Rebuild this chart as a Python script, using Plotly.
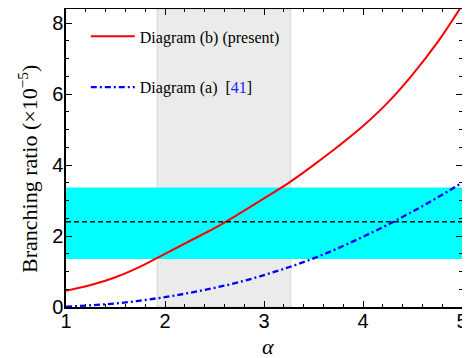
import plotly.graph_objects as go

# Data
alpha = [1.0, 1.25, 1.5, 1.75, 2.0, 2.25, 2.5, 2.75, 3.0, 3.25, 3.5, 3.75, 4.0, 4.25, 4.5, 4.75, 5.0]
br_b = [0.46, 0.62, 0.84, 1.14, 1.50, 1.86, 2.22, 2.63, 3.06, 3.50, 4.00, 4.53, 5.10, 5.76, 6.55, 7.45, 8.50]
br_a = [0.01, 0.05, 0.10, 0.18, 0.28, 0.40, 0.54, 0.70, 0.90, 1.12, 1.37, 1.66, 1.98, 2.32, 2.69, 3.08, 3.50]

exp_central = 2.40
exp_low = 1.35
exp_high = 3.37
alpha_low = 1.92
alpha_high = 3.27

x_ticks = [1, 2, 3, 4, 5]
y_ticks = [0, 2, 4, 6, 8]

fig = go.Figure()

fig.add_trace(go.Scatter(
    x=alpha, y=br_b, mode="lines", line=dict(color="#ff0000", width=2, shape="spline"),
    name="Diagram (b) (present)", legendgroup="b"))
fig.add_trace(go.Scatter(
    x=alpha, y=br_a, mode="lines", line=dict(color="#0000ff", width=2.3, dash="6px,3px,2px,3px", shape="spline"),
    name="Diagram (a)  [<span style='color:#2020ff'>41</span>]", legendgroup="a"))

# cyan experimental band
fig.add_shape(type="rect", xref="x", yref="y", x0=1, x1=5, y0=exp_low, y1=exp_high,
              fillcolor="#00ffff", line_width=0, layer="below")
# grey alpha band
fig.add_shape(type="rect", xref="x", yref="paper", x0=alpha_low, x1=alpha_high, y0=0, y1=1,
              fillcolor="rgba(216,216,216,0.51)", line=dict(color="rgba(200,200,200,0.6)", width=1), layer="below")
# central value
fig.add_shape(type="line", xref="x", yref="y", x0=1, x1=5, y0=exp_central, y1=exp_central,
              line=dict(color="black", width=1.5, dash="5px,3px"), layer="above")

axis_common = dict(
    showgrid=False, zeroline=False, showline=True, linecolor="black", linewidth=1.5,
    mirror="allticks", ticks="inside", ticklen=6, tickwidth=1, tickcolor="black",
    tickfont=dict(family="Liberation Sans, Arial", size=20, color="black"),
    ticklabeloverflow="allow",
)

fig.update_xaxes(range=[1, 5], tickvals=x_ticks, ticktext=[str(v) for v in x_ticks],
                 minor=dict(ticks="inside", dtick=0.2, ticklen=3.5, tickcolor="black", showgrid=False),
                 ticklabelstandoff=-5,
                 **axis_common)
fig.update_yaxes(range=[0, 8.4], tickvals=y_ticks, ticktext=[str(v) for v in y_ticks],
                 minor=dict(ticks="inside", dtick=0.5, ticklen=3.5, tickcolor="black", showgrid=False),
                 ticklabelstandoff=-3,
                 **axis_common)

# axis titles
fig.add_annotation(text="Branching ratio (×10<sup>−5</sup>)", xref="paper", yref="paper",
                   x=-0.096, y=0.463, xanchor="center", yanchor="middle", textangle=-90, showarrow=False,
                   font=dict(family="Liberation Serif, Times New Roman", size=22, color="black"))
fig.add_annotation(text="<i>α</i>", xref="paper", yref="paper",
                   x=0.51, y=-0.131, xanchor="center", yanchor="middle", showarrow=False,
                   font=dict(family="Liberation Serif, Times New Roman", size=22, color="black"))

# page has an 8px body margin; figure sized so the visible 470x358 window matches
fig.update_layout(
    width=462, height=350,
    margin=dict(l=58, r=8, t=1, b=51, autoexpand=False),
    plot_bgcolor="white", paper_bgcolor="white",
    legend=dict(x=0.05, y=0.965, xanchor="left", yanchor="top", bgcolor="rgba(0,0,0,0)",
                font=dict(family="Liberation Serif, Times New Roman", size=16, color="black"),
                tracegroupgap=27, itemwidth=44, traceorder="grouped"),
    showlegend=True,
)

fig.write_html("out.html")
